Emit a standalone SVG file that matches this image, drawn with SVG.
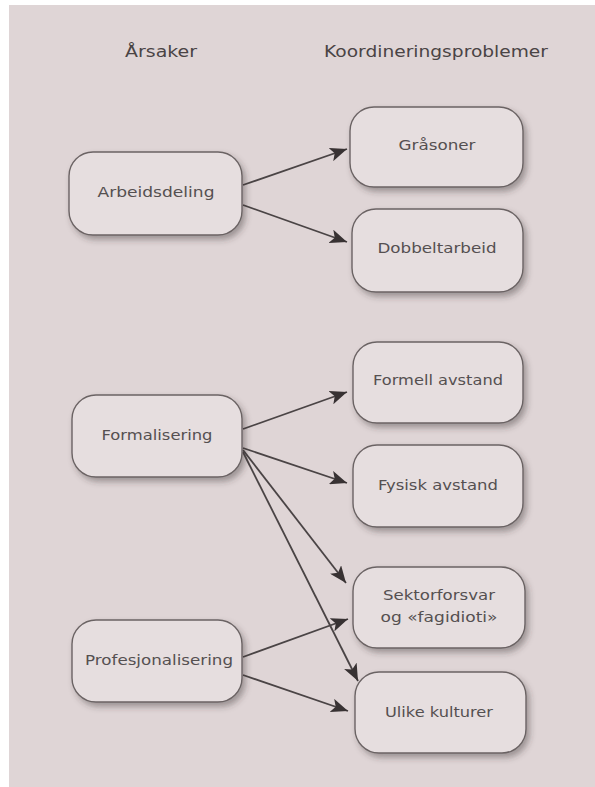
<svg xmlns="http://www.w3.org/2000/svg" width="595" height="787" viewBox="0 0 595 787">
<defs>
<filter id="sh" x="-20%" y="-20%" width="150%" height="160%">
<feDropShadow dx="3" dy="4" stdDeviation="3" flood-color="#3a3030" flood-opacity="0.4"/>
</filter>
<marker id="ah" markerUnits="userSpaceOnUse" markerWidth="18" markerHeight="14" viewBox="0 0 18 14" refX="17" refY="7" orient="auto">
<path d="M0,0 L17,7 L0,14 L4,7 Z" fill="#383233"/>
</marker>
<style>
.box{fill:#e6dedf;stroke:#6b6364;stroke-width:1.4;filter:url(#sh)}
.t{font-family:"DejaVu Sans","Liberation Sans",sans-serif;font-size:14px;fill:#555051;text-anchor:middle}
.h{font-family:"DejaVu Sans","Liberation Sans",sans-serif;font-size:15px;fill:#4a4445;text-anchor:middle}
.c{stroke:#4a4445;stroke-width:1.8;fill:none;marker-end:url(#ah)}
</style>
</defs>
<rect x="0" y="0" width="595" height="787" fill="#ffffff"/>
<rect x="9" y="5" width="586" height="782" fill="#dfd5d6"/>
<g id="headers">
<text class="h" x="161" y="57" textLength="72" lengthAdjust="spacingAndGlyphs">Årsaker</text>
<text class="h" x="436" y="57" textLength="224" lengthAdjust="spacingAndGlyphs">Koordineringsproblemer</text>
</g>
<g id="connectors">
<line class="c" x1="243" y1="185" x2="347" y2="149"/>
<line class="c" x1="243" y1="205" x2="347" y2="242"/>
<line class="c" x1="243" y1="429" x2="347" y2="392"/>
<line class="c" x1="243" y1="448" x2="347" y2="483"/>
<line class="c" x1="243" y1="450" x2="346" y2="583"/>
<line class="c" x1="243" y1="452" x2="358" y2="681"/>
<line class="c" x1="243" y1="657" x2="348" y2="619"/>
<line class="c" x1="243" y1="675" x2="348" y2="711"/>
</g>
<g id="arbeidsdeling">
<rect class="box" x="69" y="152" width="173" height="83" rx="24"/>
<text class="t" x="156" y="197" textLength="117" lengthAdjust="spacingAndGlyphs">Arbeidsdeling</text>
</g>
<g id="formalisering">
<rect class="box" x="72" y="395" width="170" height="82" rx="24"/>
<text class="t" x="157" y="440" textLength="111" lengthAdjust="spacingAndGlyphs">Formalisering</text>
</g>
<g id="profesjonalisering">
<rect class="box" x="72" y="620" width="170" height="82" rx="24"/>
<text class="t" x="159" y="665" textLength="148" lengthAdjust="spacingAndGlyphs">Profesjonalisering</text>
</g>
<g id="grasoner">
<rect class="box" x="350" y="107" width="173" height="80" rx="24"/>
<text class="t" x="437" y="150" textLength="77" lengthAdjust="spacingAndGlyphs">Gråsoner</text>
</g>
<g id="dobbeltarbeid">
<rect class="box" x="352" y="209" width="171" height="83" rx="24"/>
<text class="t" x="437" y="253" textLength="119" lengthAdjust="spacingAndGlyphs">Dobbeltarbeid</text>
</g>
<g id="formell-avstand">
<rect class="box" x="353" y="342" width="170" height="81" rx="24"/>
<text class="t" x="438" y="385" textLength="130" lengthAdjust="spacingAndGlyphs">Formell avstand</text>
</g>
<g id="fysisk-avstand">
<rect class="box" x="353" y="445" width="170" height="82" rx="24"/>
<text class="t" x="438" y="490" textLength="120" lengthAdjust="spacingAndGlyphs">Fysisk avstand</text>
</g>
<g id="sektorforsvar">
<rect class="box" x="353" y="567" width="172" height="81" rx="24"/>
<text class="t" x="439" y="600" textLength="112" lengthAdjust="spacingAndGlyphs">Sektorforsvar</text>
<text class="t" x="439" y="622" textLength="117" lengthAdjust="spacingAndGlyphs">og «fagidioti»</text>
</g>
<g id="ulike-kulturer">
<rect class="box" x="355" y="672" width="171" height="81" rx="24"/>
<text class="t" x="439" y="717" textLength="108" lengthAdjust="spacingAndGlyphs">Ulike kulturer</text>
</g>
</svg>
